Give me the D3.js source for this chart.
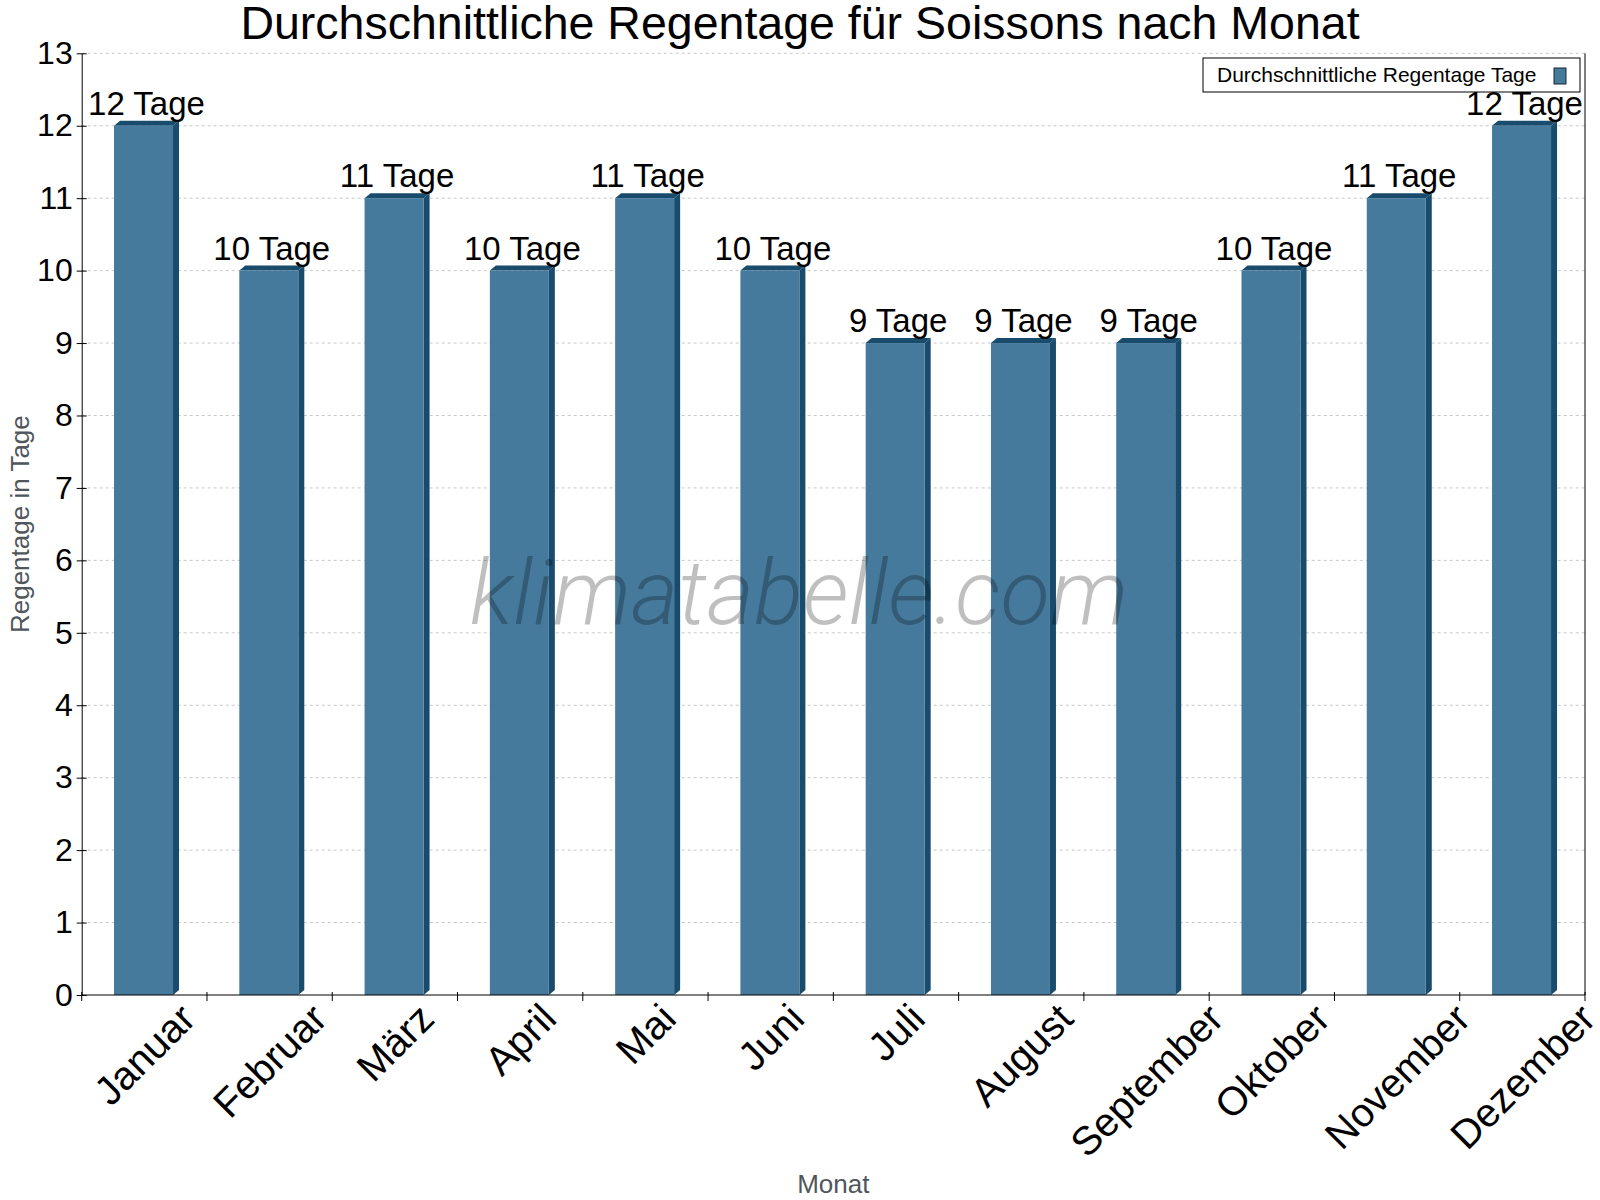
<!DOCTYPE html>
<html>
<head>
<meta charset="utf-8">
<script src="https://cdn.jsdelivr.net/npm/d3@7"></script>
<style>
  body { margin: 0; background: #fff; }
  svg { display: block; font-family: "Liberation Sans", Arial, sans-serif; }
</style>
</head>
<body>
<div id="chart"></div>
<script>
// chart data
var months = ["Januar", "Februar", "März", "April", "Mai", "Juni", "Juli", "August", "September", "Oktober", "November", "Dezember"];
var rainDays = [12, 10, 11, 10, 11, 10, 9, 9, 9, 10, 11, 12];
var yTicks = [0, 1, 2, 3, 4, 5, 6, 7, 8, 9, 10, 11, 12, 13];
var seriesName = "Durchschnittliche Regentage Tage";
var unit = "Tage";

var width = 1600, height = 1200;
var margin = { top: 53.3, right: 15, bottom: 205, left: 81.7 };
var plotW = width - margin.left - margin.right;
var plotH = height - margin.top - margin.bottom;

var frontColor = "#467a9c";
var darkColor = "#184b6c";
var depthX = 6, depthY = 5;

var svg = d3.select("#chart")
    .append("svg")
    .attr("width", width)
    .attr("height", height);

var g = svg.append("g")
    .attr("transform", "translate(" + margin.left + "," + margin.top + ")");

var x = d3.scaleBand()
    .domain(months)
    .range([0, plotW])
    .padding(0);

var y = d3.scaleLinear()
    .domain([0, 13])
    .range([plotH, 0]);

// grid lines
g.selectAll(".grid")
    .data(yTicks.filter(function(d) { return d > 0; }))
    .enter()
    .append("line")
    .attr("x1", 0)
    .attr("x2", plotW)
    .attr("y1", function(d) { return y(d); })
    .attr("y2", function(d) { return y(d); })
    .attr("stroke", "#c8c8c8")
    .attr("stroke-width", 1)
    .attr("stroke-dasharray", "3,3");

// bars (front, side, top)
var barOff = x.bandwidth() * 0.258;
var barW = x.bandwidth() * 0.471;

var bars = g.selectAll(".bar")
    .data(rainDays)
    .enter()
    .append("g");

bars.append("polygon")
    .attr("fill", darkColor)
    .attr("points", function(d, i) {
        var x1 = x(months[i]) + barOff + barW;
        var yt = y(d), yb = y(0);
        return [[x1, yt], [x1 + depthX, yt - depthY], [x1 + depthX, yb - depthY], [x1, yb]].join(" ");
    });

bars.append("polygon")
    .attr("fill", darkColor)
    .attr("points", function(d, i) {
        var x0 = x(months[i]) + barOff;
        var yt = y(d);
        return [[x0, yt], [x0 + depthX, yt - depthY], [x0 + barW + depthX, yt - depthY], [x0 + barW, yt]].join(" ");
    });

bars.append("rect")
    .attr("x", function(d, i) { return x(months[i]) + barOff; })
    .attr("y", function(d) { return y(d); })
    .attr("width", barW)
    .attr("height", function(d) { return y(0) - y(d); })
    .attr("fill", frontColor);

// value labels
g.selectAll(".val")
    .data(rainDays)
    .enter()
    .append("text")
    .attr("x", function(d, i) { return x(months[i]) + barOff + barW / 2 + 3; })
    .attr("y", function(d) { return y(d) - 11; })
    .attr("text-anchor", "middle")
    .attr("font-size", "33px")
    .attr("fill", "#000")
    .text(function(d) { return d + " " + unit; });

// y axis
var yAxis = g.append("g")
    .call(d3.axisLeft(y).tickValues(yTicks).tickSizeOuter(0).tickSizeInner(5).tickPadding(4));
yAxis.select(".domain").attr("stroke", "#000");
yAxis.selectAll(".tick line").attr("x1", -5).attr("x2", 5).attr("stroke", "#000");
yAxis.selectAll(".tick text")
    .attr("font-size", "32px")
    .attr("font-family", "Liberation Sans, Arial, sans-serif")
    .attr("fill", "#000");

// right border line
g.append("line")
    .attr("x1", plotW).attr("x2", plotW)
    .attr("y1", 0).attr("y2", plotH)
    .attr("stroke", "#000");

// x axis
var xAxis = g.append("g")
    .attr("transform", "translate(0," + plotH + ")");
xAxis.append("line")
    .attr("x1", 0).attr("x2", plotW)
    .attr("stroke", "#000");
var bounds = months.map(function(m) { return x(m); }).concat([plotW]);
xAxis.selectAll(".xt")
    .data(bounds)
    .enter()
    .append("line")
    .attr("x1", function(d) { return d; })
    .attr("x2", function(d) { return d; })
    .attr("y1", -3)
    .attr("y2", 6)
    .attr("stroke", "#000");

var xLabels = xAxis.selectAll(".xl")
    .data(months)
    .enter()
    .append("text")
    .attr("font-size", "40px")
    .attr("text-anchor", "middle")
    .attr("fill", "#000")
    .text(function(d) { return d; });

xLabels.each(function(d) {
    var w = this.getComputedTextLength();
    var bx = x(d) + x.bandwidth() / 2 + 10;
    var by = 26 + w * 0.3536;
    d3.select(this).attr("transform", "translate(" + bx + "," + by + ") rotate(-45)");
});

// axis titles
svg.append("text")
    .attr("transform", "translate(29," + (margin.top + plotH / 2) + ") rotate(-90)")
    .attr("text-anchor", "middle")
    .attr("font-size", "26px")
    .attr("fill", "#50565c")
    .text("Regentage in Tage");

svg.append("text")
    .attr("x", margin.left + plotW / 2)
    .attr("y", 1193)
    .attr("text-anchor", "middle")
    .attr("font-size", "26px")
    .attr("fill", "#50565c")
    .text("Monat");

// title
svg.append("text")
    .attr("x", 800)
    .attr("y", 39)
    .attr("text-anchor", "middle")
    .attr("font-size", "46.5px")
    .attr("fill", "#000")
    .text("Durchschnittliche Regentage für Soissons nach Monat");

// watermark
svg.append("text")
    .attr("x", 799)
    .attr("y", 624)
    .attr("text-anchor", "middle")
    .attr("font-family", "Roboto, sans-serif")
    .attr("font-weight", 300)
    .attr("font-style", "italic")
    .attr("font-size", "91px")
    .attr("fill", "#000")
    .attr("fill-opacity", 0.25)
    .text("klimatabelle.com");

// legend
var legend = svg.append("g").attr("transform", "translate(1203,58)");
legend.append("rect")
    .attr("width", 377)
    .attr("height", 34)
    .attr("fill", "#fff")
    .attr("stroke", "#000");
legend.append("text")
    .attr("x", 14)
    .attr("y", 24)
    .attr("font-size", "21px")
    .attr("fill", "#000")
    .text(seriesName);
legend.append("rect")
    .attr("x", 351)
    .attr("y", 10)
    .attr("width", 12)
    .attr("height", 16)
    .attr("fill", frontColor)
    .attr("stroke", "#1a2a35");
</script>
</body>
</html>
